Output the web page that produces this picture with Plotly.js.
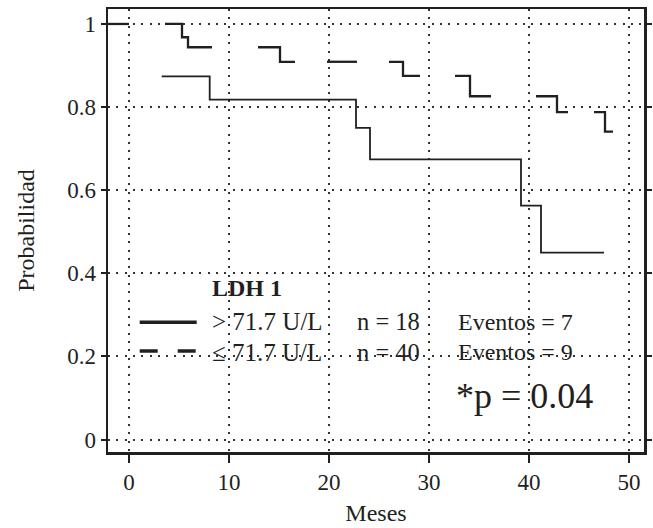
<!DOCTYPE html>
<html>
<head>
<meta charset="utf-8">
<script src="https://cdn.plot.ly/plotly-3.0.1.min.js"></script>
<style>html,body{margin:0;padding:0;background:#fff;}#chart{width:653px;height:528px;}</style>
</head>
<body>
<div id="chart"></div>
<script>
// ---- data ----
const xTickVals = [0, 10, 20, 30, 40, 50];
const xTickText = ['0', '10', '20', '30', '40', '50'];
const yTickVals = [0, 0.2, 0.4, 0.6, 0.8, 1];
const yTickText = ['0', '0.2', '0.4', '0.6', '0.8', '1'];

// LDH 1 > 71.7 U/L (solid)
const highTime = [3.27, 8.07, 22.7, 24.1, 39.2, 41.2, 47.5];
const highSurv = [0.874, 0.818, 0.750, 0.674, 0.563, 0.450, 0.450];

// LDH 1 <= 71.7 U/L (dashed, drawn piece by piece as in the print)
const lowTime = [-2.1, 0, null, 3.6, 5.3, 5.9, 8.3, null, 12.9, 15.1, 16.6, null, 19.8, 22.8, null,
                 26.0, 27.4, 29.1, null, 32.6, 34.1, 36.2, null, 40.7, 42.8, 43.9, null, 46.5, 47.6, 48.4];
const lowSurv = [1, 1, null, 1, 0.968, 0.944, 0.944, null, 0.944, 0.909, 0.909, null, 0.909, 0.909, null,
                 0.909, 0.875, 0.875, null, 0.875, 0.826, 0.826, null, 0.826, 0.788, 0.788, null, 0.788, 0.741, 0.741];

const legendTitle = 'LDH 1';
const groupLabels = ['> 71.7 U/L', '\u2264 71.7 U/L'];
const nLabels = ['n = 18', 'n = 40'];
const eventLabels = ['Eventos = 7', 'Eventos = 9'];
const pLabel = '*p = 0.04';
const xTitle = 'Meses';
const yTitle = 'Probabilidad';

// ---- drawing ----
const ink = '#231f20';
const FONT = '"Liberation Serif", "Times New Roman", serif';

const traces = [
  {x: highTime, y: highSurv, mode: 'lines', line: {shape: 'hv', color: ink, width: 1.8}, hoverinfo: 'skip', showlegend: false},
  {x: lowTime, y: lowSurv, mode: 'lines', connectgaps: false, line: {shape: 'hv', color: ink, width: 2.3}, hoverinfo: 'skip', showlegend: false}
];

const legRows = [0.284, 0.210];
const annotations = [
  {x: 8.07, y: 0.364, xref: 'x', yref: 'y', text: '<b>' + legendTitle + '</b>', showarrow: false, xanchor: 'left', yanchor: 'middle', font: {family: FONT, size: 24, color: ink}},
];
for (let i = 0; i < 2; i++) {
  annotations.push({x: 8.07, y: legRows[i], xref: 'x', yref: 'y', text: groupLabels[i], showarrow: false, xanchor: 'left', yanchor: 'middle', font: {family: FONT, size: 25, color: ink}});
  annotations.push({x: 22.6, y: legRows[i], xref: 'x', yref: 'y', text: nLabels[i], showarrow: false, xanchor: 'left', yanchor: 'middle', font: {family: FONT, size: 24.5, color: ink}});
  annotations.push({x: 32.7, y: legRows[i], xref: 'x', yref: 'y', text: eventLabels[i], showarrow: false, xanchor: 'left', yanchor: 'middle', font: {family: FONT, size: 24, color: ink}});
}
annotations.push({x: 32.5, y: 0.105, xref: 'x', yref: 'y', text: pLabel, showarrow: false, xanchor: 'left', yanchor: 'middle', font: {family: FONT, size: 36, color: ink}});

const shapes = [
  {type: 'line', xref: 'x', yref: 'y', x0: 1.07, x1: 6.77, y0: legRows[0] - 0.002, y1: legRows[0] - 0.002, line: {color: ink, width: 3.5}},
  {type: 'line', xref: 'x', yref: 'y', x0: 1.07, x1: 6.77, y0: legRows[1] + 0.003, y1: legRows[1] + 0.003, line: {color: ink, width: 3.5, dash: '18px,20px'}}
];

const axisCommon = {
  showline: true, linecolor: ink, linewidth: 2.5,
  showgrid: true, gridcolor: '#333', gridwidth: 2, griddash: '2px,6.3px',
  zeroline: false, ticks: 'outside', tickcolor: ink, tickwidth: 2,
  tickfont: {family: FONT, size: 23, color: ink}, fixedrange: true
};

const layout = {
  width: 653, height: 528,
  margin: {l: 108, r: 9, t: 9, b: 76},
  paper_bgcolor: '#fff', plot_bgcolor: '#fff',
  showlegend: false,
  xaxis: Object.assign({}, axisCommon, {
    range: [-2.1, 51.5], tickvals: xTickVals, ticktext: xTickText, ticklen: 8, mirror: true,
    title: {text: xTitle, font: {family: FONT, size: 24, color: ink}, standoff: 10}
  }),
  yaxis: Object.assign({}, axisCommon, {
    range: [-0.030, 1.036], tickvals: yTickVals, ticktext: yTickText, ticklen: 5, mirror: 'ticks',
    title: {text: yTitle, font: {family: FONT, size: 24, color: ink}, standoff: 26}
  }),
  annotations: annotations,
  shapes: shapes
};

Plotly.newPlot('chart', traces, layout, {staticPlot: true, displayModeBar: false});
</script>
</body>
</html>
